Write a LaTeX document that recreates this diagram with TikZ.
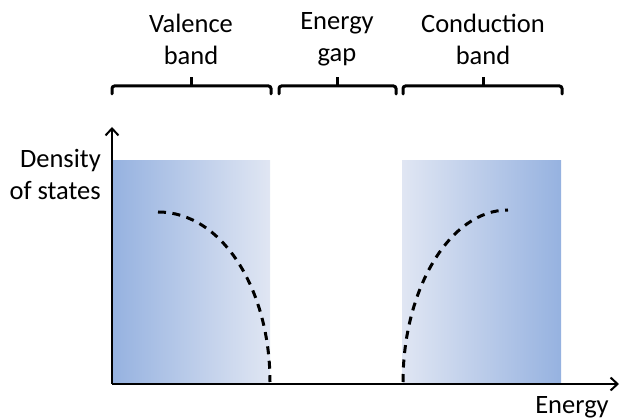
\documentclass[tikz,border=0pt]{standalone}
\usepackage{fontspec}
\setmainfont{Carlito}
\usetikzlibrary{arrows.meta}
\definecolor{bandDark}{RGB}{150,178,224}
\definecolor{bandLight}{RGB}{224,230,243}
\tikzset{
  lbl/.style={font=\fontsize{26.5}{32}\selectfont, align=center, inner sep=0pt},
  axisline/.style={line width=2.8pt, -{Straight Barb[length=7pt,width=13pt,line width=2pt]}},
  bracepath/.style={line width=3pt, rounded corners=2.5pt, line cap=round},
  dos/.style={line width=3pt, dash pattern=on 8pt off 6.5pt}
}
\begin{document}
\begin{tikzpicture}[x=1pt,y=-1pt]
\useasboundingbox (0,0) rectangle (621,419);
% bands
\shade[left color=bandDark, right color=bandLight] (113,161) rectangle (270,384);
\shade[left color=bandLight, right color=bandDark] (402,161) rectangle (561,384);
% axes
\coordinate (o) at (112,384);
\coordinate (ytip) at (112,127);
\coordinate (xtip) at (619,384);
\draw[axisline] (o) -- (ytip);
\draw[axisline] (o) -- (xtip);
% density curves
\draw[dos] (158,212) .. controls (222,212) and (270,289) .. (270,382);
\draw[dos] (403,382) .. controls (403,289) and (450,210) .. (508,210);
% braces
\draw[bracepath] (112,94) -- (112,86) -- (271,86) -- (271,94);
\draw[line width=3pt] (191,86) -- (191,77);
\draw[bracepath] (279,94) -- (279,86) -- (396,86) -- (396,94);
\draw[line width=3pt] (337,86) -- (337,77);
\draw[bracepath] (403,94) -- (403,86) -- (562,86) -- (562,94);
\draw[line width=3pt] (483,86) -- (483,77);
% labels
\node[lbl] (val) at (191,39) {Valence\\band};
\node[lbl] (gap) at (337,39) {Energy\\gap};
\node[lbl] (cond) at (483,39) {Conduction\\band};
\node[lbl, align=right, anchor=east] (dens) at (101,174) {Density\\of states};
\node[lbl] (en) at (572,407) {Energy};
\end{tikzpicture}
\end{document}
